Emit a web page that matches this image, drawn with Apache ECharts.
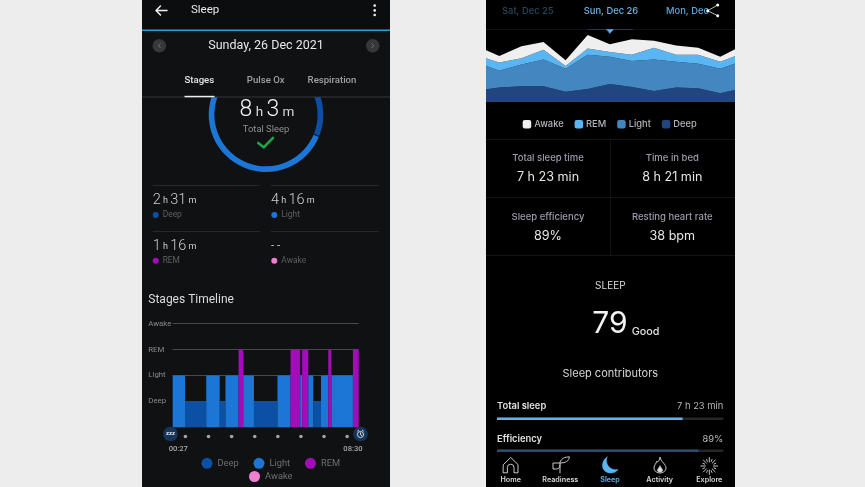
<!DOCTYPE html>
<html>
<head>
<meta charset="utf-8">
<style>
html, body { margin: 0; padding: 0; background: #ededed; }
#left, #right { position: absolute; top: 0; height: 487px; }
#left { left: 142px; width: 248px; background: #101113; }
#right { left: 486px; width: 249px; background: #000; }
#chart { position: absolute; left: 0; top: 0; width: 865px; height: 487px; }
</style>
<script src="https://cdn.jsdelivr.net/npm/echarts@6/dist/echarts.min.js"></script>
</head>
<body>
<div id="left"></div>
<div id="right"></div>
<div id="chart"></div>
<script>
// garmin timeline: stage and length in minutes of each block, starts 00:27
var stageNames = ['Deep', 'Light', 'REM', 'Awake'];
var segStages = ['Light', 'Deep', 'Light', 'Deep', 'Light', 'REM', 'Light', 'Deep', 'Light', 'REM', 'Light', 'REM', 'Light', 'Deep', 'Light', 'REM', 'Light', 'REM'];
var segMinutes = [32, 55, 35, 15, 34, 12, 28, 61, 34, 25, 5, 16, 13, 20, 19, 8, 56, 15];
var startMinute = 27;
var endMinute = 510;
var hourMarks = [60, 120, 180, 240, 300, 360, 420, 480];
// garmin ring
var ringValues = [151, 256, 76, 0];
// oura stacked area, hours per night (first and last night run off the phone)
var nights = ['0', '1', '2', '3', '4', '5', '6', '7', '8', '9', '10', '11', '12'];
var deepHours = [1.7, 2.1, 2.3, 2.3, 1.5, 1.9, 2.6, 2.2, 1.6, 2.1, 2.0, 1.3, 2.0];
var lightHours = [4.0, 2.4, 3.1, 3.8, 3.3, 4.9, 3.9, 3.7, 4.5, 3.7, 3.5, 3.5, 3.9];
var remHours = [1.0, 1.2, 0.9, 1.4, 0.4, 0.9, 0.7, 0.9, 1.7, 1.0, 1.3, 1.0, 1.1];
var awakeHours = [1.3, 0.9, 1.7, 1.1, 0.8, 1.9, 1.1, 2.2, 1.0, 1.3, 1.0, 0.7, 1.1];
// oura contributors
var contributorNames = ['Total sleep', 'Efficiency'];
var contributorValues = [82, 89];

var garminColors = { Deep: '#0c50a6', Light: '#1b76d6', REM: '#a30db9', Awake: '#f07fd3' };
var ouraColors = { Deep: '#21457f', Light: '#4487c0', REM: '#5ab6f2', Awake: '#efefef' };
var garminFont = 'Roboto';
var ouraFont = 'Inter';

// split the timeline blocks up per stage
var stageData = { Deep: [], Light: [], REM: [], Awake: [] };
var t = startMinute;
segStages.forEach(function (s, i) {
    stageData[s].push([t, t + segMinutes[i], stageNames.indexOf(s) + 1]);
    t += segMinutes[i];
});

function renderStage(params, api) {
    var a = api.coord([api.value(0), 0]);
    var b = api.coord([api.value(1), api.value(2)]);
    return {
        type: 'rect',
        shape: { x: a[0], y: b[1], width: b[0] - a[0], height: a[1] - b[1] },
        style: { fill: api.visual('color') }
    };
}

// graphic helpers
function txt(x, y, text, size, color, font, opts) {
    opts = opts || {};
    return {
        type: 'text',
        style: {
            x: x, y: y, text: text, fontSize: size, fill: color, fontFamily: font,
            fontWeight: opts.weight || 400, align: opts.align || 'left', verticalAlign: 'middle',
            rich: opts.rich
        }
    };
}
function rect(x, y, w, h, color) {
    return { type: 'rect', shape: { x: x, y: y, width: w, height: h }, style: { fill: color } };
}
function dot(x, y, r, color) {
    return { type: 'circle', shape: { cx: x, cy: y, r: r }, style: { fill: color } };
}
// graphic has no plain path type, so every icon gets registered as a shape
var iconCount = 0;
function path(d, stroke, width, fill) {
    var name = 'icon' + (iconCount++);
    echarts.graphic.registerShape(name, echarts.graphic.extendPath(d, {}));
    return { type: name, style: { stroke: stroke, lineWidth: width, fill: fill || 'none', lineCap: 'round', lineJoin: 'round' } };
}
function hm(x, y, text, big, small, color) {
    var rich = {
        b: { fontSize: big, fill: color, fontFamily: garminFont, fontWeight: 300 },
        s: { fontSize: small, fill: color, fontFamily: garminFont, fontWeight: 400 }
    };
    return txt(x, y, text, big, color, garminFont, { rich: rich });
}

var sparks = '';
for (var k = 0; k < 16; k++) {
    var ang = k * Math.PI / 8;
    var r1 = k % 2 ? 5 : 4, r2 = k % 2 ? 7 : 8.4;
    sparks += 'M' + (709.3 + r1 * Math.cos(ang)) + ' ' + (466 + r1 * Math.sin(ang)) + 'L' + (709.3 + r2 * Math.cos(ang)) + ' ' + (466 + r2 * Math.sin(ang));
}

var gr = ouraFont;
var elements = [
    // left phone header, also hides the top of the ring
    rect(142, 0, 248, 97, '#101113'),
    rect(142, 0, 248, 29.5, '#0c0d0f'),
    rect(142, 29.5, 248, 1.4, '#2a9ed6'),
    path('M167 10.5H156M160.5 6L156 10.5L160.5 15', '#f0f0f0', 1.5),
    txt(191, 10.5, 'Sleep', 11.5, '#e8e8e8', garminFont),
    dot(374.7, 5.6, 1.3, '#f0f0f0'), dot(374.7, 10.4, 1.3, '#f0f0f0'), dot(374.7, 15, 1.3, '#f0f0f0'),
    dot(159.3, 45.7, 6.8, '#36383a'), path('M160.3 43.7L158.3 45.7L160.3 47.7', '#777', 0.9),
    dot(372.7, 45.7, 6.8, '#36383a'), path('M371.7 43.7L373.7 45.7L371.7 47.7', '#777', 0.9),
    txt(266, 46, 'Sunday, 26 Dec 2021', 12.5, '#e6e6e6', garminFont, { align: 'center' }),
    txt(199.3, 80.5, 'Stages', 9.6, '#e4e4e4', garminFont, { align: 'center', weight: 500 }),
    txt(265.7, 80.5, 'Pulse Ox', 9.6, '#a0a0a0', garminFont, { align: 'center', weight: 500 }),
    txt(332, 80.5, 'Respiration', 9.6, '#a0a0a0', garminFont, { align: 'center', weight: 500 }),
    rect(142, 96.6, 248, 1, '#35363a'),
    rect(184.5, 95.8, 30, 1.5, '#eeeeee'),
    // ring centre
    txt(267, 110.5, '{b|8}{s| h }{b|3}{s| m}', 23, '#f2f2f2', garminFont, {
        align: 'center',
        rich: {
            b: { fontSize: 23, fill: '#f2f2f2', fontFamily: garminFont, fontWeight: 300 },
            s: { fontSize: 13.5, fill: '#d8d8d8', fontFamily: garminFont, padding: [5, 0, 0, 0] }
        }
    }),
    txt(266, 129.7, 'Total Sleep', 9.4, '#8f8f8f', garminFont, { align: 'center' }),
    path('M258.3 143L263.7 147.3L273 137.9', '#1ea64a', 2.6),
    // stage totals
    rect(152.7, 185, 107.5, 0.8, '#303134'), rect(271, 185, 107.7, 0.8, '#303134'),
    rect(152.7, 231, 107.5, 0.8, '#303134'), rect(271, 231, 107.7, 0.8, '#303134'),
    hm(152.7, 200.5, '{b|2}{s| h }{b|31}{s| m}', 14.5, 9, '#cfcfcf'),
    hm(271, 200.5, '{b|4}{s| h }{b|16}{s| m}', 14.5, 9, '#cfcfcf'),
    hm(152.7, 246.5, '{b|1}{s| h }{b|16}{s| m}', 14.5, 9, '#cfcfcf'),
    txt(271, 246, '- -', 11.5, '#cfcfcf', garminFont),
    dot(155.7, 215, 3, garminColors.Deep), txt(162.7, 215, 'Deep', 8.4, '#5f5f5f', garminFont),
    dot(274.3, 215, 3, garminColors.Light), txt(281.3, 215, 'Light', 8.4, '#5f5f5f', garminFont),
    dot(155.7, 260.7, 3, garminColors.REM), txt(162.7, 260.7, 'REM', 8.4, '#5f5f5f', garminFont),
    dot(274.3, 260.7, 3, garminColors.Awake), txt(281.3, 260.7, 'Awake', 8.4, '#5f5f5f', garminFont),
    txt(148.3, 299.5, 'Stages Timeline', 12, '#dcdcdc', garminFont),
    // start and end badges of the timeline
    dot(170.5, 434, 7.3, '#17345a'),
    txt(170.5, 433.5, 'zzz', 6, '#e8e8e8', garminFont, { align: 'center', weight: 700 }),
    dot(360.5, 434, 7.3, '#17345a'),
    path('M363.6 434.5A3.1 3.1 0 1 1 357.4 434.5A3.1 3.1 0 1 1 363.6 434.5M360.5 432.8V434.7L361.7 435.4M357.6 431L358.7 430.2M363.4 431L362.3 430.2', '#e8e8e8', 0.9),
    txt(178.3, 449, '00:27', 7.6, '#a8a8a8', garminFont, { align: 'center', weight: 500 }),
    txt(353, 449, '08:30', 7.6, '#a8a8a8', garminFont, { align: 'center', weight: 500 }),

    // the area grid is wider than the phone, hide what sticks out
    rect(470, 30, 16, 75, '#ededed'),
    rect(735, 30, 16, 75, '#ededed'),
    // right phone header
    txt(502, 10.7, 'Sat, Dec 25', 9.4, '#27465c', gr, { weight: 500 }),
    txt(583.7, 10.7, 'Sun, Dec 26', 9.4, '#6fb4e2', gr, { weight: 500 }),
    txt(666, 10.7, 'Mon, Dec', 9.4, '#5ea6d4', gr, { weight: 500 }),
    rect(486, 29, 249, 0.7, '#15181b'),
    rect(587, 29, 46, 0.7, '#23435a'),
    path('M606.7 29.5H613.3L610 33.3Z', '#5ab6f2', 0.5, '#5ab6f2'),
    path('M717.7 5L707.7 10.7L717.7 15.7', '#eeeeee', 0.8),
    dot(717.7, 5, 1.5, '#fff'), dot(707.7, 10.7, 1.5, '#fff'), dot(717.7, 15.7, 1.5, '#fff'),
    // right phone table rules
    rect(486, 139, 249, 0.7, '#1b1b1e'), rect(486, 197.2, 249, 0.7, '#1b1b1e'), rect(486, 255.2, 249, 0.7, '#1b1b1e'),
    rect(610.2, 139, 0.7, 116, '#1b1b1e'),
    txt(548, 157.8, 'Total sleep time', 9.5, '#9b9bab', gr, { align: 'center', weight: 500 }),
    txt(672.3, 157.8, 'Time in bed', 9.5, '#9b9bab', gr, { align: 'center', weight: 500 }),
    txt(548, 177.5, '7 h 23 min', 12.6, '#e6e6e6', gr, { align: 'center' }),
    txt(672.3, 177.5, '8 h 21 min', 12.6, '#e6e6e6', gr, { align: 'center' }),
    txt(548, 216.8, 'Sleep efficiency', 9.5, '#9b9bab', gr, { align: 'center', weight: 500 }),
    txt(672.3, 216.8, 'Resting heart rate', 9.5, '#9b9bab', gr, { align: 'center', weight: 500 }),
    txt(548, 236, '89%', 12.6, '#e6e6e6', gr, { align: 'center' }),
    txt(672.3, 236, '38 bpm', 12.6, '#e6e6e6', gr, { align: 'center' }),
    txt(610.3, 286, 'SLEEP', 10, '#dcdcdc', gr, { align: 'center' }),
    txt(610, 323.5, '79', 30, '#f4f4f4', gr, { align: 'center' }),
    txt(631.7, 331.7, 'Good', 10.8, '#e0e0e0', gr, { weight: 500 }),
    txt(610.3, 374, 'Sleep contributors', 11, '#d8d8d8', gr, { align: 'center' }),
    txt(497, 405.7, 'Total sleep', 9.4, '#e0e0e0', gr, { weight: 600 }),
    txt(723.3, 405.7, '7 h 23 min', 9.4, '#b8b8b8', gr, { align: 'right' }),
    txt(497, 439, 'Efficiency', 9.4, '#e0e0e0', gr, { weight: 600 }),
    txt(723.3, 439, '89%', 9.4, '#b8b8b8', gr, { align: 'right' }),
    // bottom nav
    path('M503.5 464.5L510.7 457.5L518 464.5V472.8H514V467.5A3.3 3.3 0 0 0 507.4 467.5V472.8H503.5Z', '#dddddd', 0.9),
    path('M560 473V462.5C561 458.5 565 457 569.3 456.8C569.3 461 565.5 463 560 463H553V469H556.5C559 469 560 467 560 465', '#dddddd', 0.9),
    path('M607 457C600 462 601 473 611 473C614 473 616.5 471.5 618 469.5C611 471 604.5 465 607 457Z', '#5ab6f2', 0.5, '#5ab6f2'),
    path('M660 457.5C661 462 666 464 666 468C666 471 663 473 660 473C657 473 654 471 654 468C654 465 656 464 657 461C658 463 659 461 660 457.5Z', '#dddddd', 0.9),
    path('M660 466C661 468 663 469 662.5 471C662 472.5 658 472.5 657.5 471C657 469 659 468 660 466Z', '#dddddd', 0.5, '#dddddd'),
    path(sparks, '#dddddd', 0.9),
    txt(510.7, 480.3, 'Home', 7.2, '#d8d8d8', gr, { align: 'center', weight: 600 }),
    txt(560.3, 480.3, 'Readiness', 7.2, '#d8d8d8', gr, { align: 'center', weight: 600 }),
    txt(610, 480.3, 'Sleep', 7.2, '#5ab6f2', gr, { align: 'center', weight: 600 }),
    txt(659.7, 480.3, 'Activity', 7.2, '#d8d8d8', gr, { align: 'center', weight: 600 }),
    txt(709.3, 480.3, 'Explore', 7.2, '#d8d8d8', gr, { align: 'center', weight: 600 })
];
// z goes on each element, the covers have to sit above the series
elements.forEach(function (el) { el.z = 10; });

function stageSeries(name) {
    return {
        name: name, type: 'custom', xAxisIndex: 0, yAxisIndex: 0,
        renderItem: renderStage, data: stageData[name],
        encode: { x: [0, 1], y: 2 },
        itemStyle: { color: garminColors[name] }, silent: true
    };
}
function areaSeries(name, values) {
    return {
        name: name, type: 'line', stack: 'oura', xAxisIndex: 2, yAxisIndex: 2,
        data: values, showSymbol: false, smooth: false, silent: true,
        lineStyle: { width: 0 }, areaStyle: { color: ouraColors[name], opacity: 1 },
        itemStyle: { color: ouraColors[name] }
    };
}
function legendItem(name, colors) {
    return { name: name, itemStyle: { color: colors[name] } };
}

var chart = echarts.init(document.getElementById('chart'));
var option = {
    animation: false,
    backgroundColor: 'transparent',
    textStyle: { fontFamily: garminFont },
    grid: [
        { left: 172.7, top: 323.7, width: 186, height: 103.6 },
        { left: 172.7, top: 436, width: 186, height: 1 },
        { left: 477.2, top: 32.3, width: 265.2, height: 70 },
        { left: 497, top: 402.7, width: 226.3, height: 64 }
    ],
    xAxis: [
        { type: 'value', gridIndex: 0, min: startMinute, max: endMinute, show: false },
        { type: 'value', gridIndex: 1, min: startMinute, max: endMinute, show: false },
        { type: 'category', gridIndex: 2, data: nights, boundaryGap: false, show: false },
        { type: 'value', gridIndex: 3, min: 0, max: 100, show: false }
    ],
    yAxis: [
        {
            type: 'value', gridIndex: 0, min: 0, max: 4, interval: 1,
            axisLine: { show: false }, axisTick: { show: false },
            splitLine: { showMinLine: false, lineStyle: { color: '#48494c', width: 1 } },
            axisLabel: {
                align: 'left', margin: 24.4, fontSize: 7.8, color: '#8a8a8a', fontFamily: garminFont,
                formatter: function (v) { return v > 0 ? stageNames[v - 1] : ''; }
            }
        },
        { type: 'value', gridIndex: 1, min: 0, max: 1, show: false },
        { type: 'value', gridIndex: 2, min: 0, max: 10, show: false },
        { type: 'category', gridIndex: 3, data: contributorNames, inverse: true, show: false }
    ],
    legend: [
        {
            data: [legendItem('Deep', garminColors), legendItem('Light', garminColors), legendItem('REM', garminColors)],
            left: 201.5, top: 457.8, itemWidth: 11, itemHeight: 11, itemGap: 14.8, icon: 'circle', padding: 0,
            selectedMode: false, textStyle: { fontSize: 9.3, color: '#6f6f6f', fontFamily: garminFont }
        },
        {
            data: [legendItem('Awake', garminColors)],
            left: 249, top: 471, itemWidth: 11, itemHeight: 11, icon: 'circle', padding: 0,
            selectedMode: false, textStyle: { fontSize: 9.3, color: '#6f6f6f', fontFamily: garminFont }
        },
        {
            data: [legendItem('Awake', ouraColors), legendItem('REM', ouraColors), legendItem('Light', ouraColors), legendItem('Deep', ouraColors)],
            left: 522.7, top: 119.8, itemWidth: 8.5, itemHeight: 8.5, itemGap: 11, icon: 'roundRect', padding: 0,
            selectedMode: false, textStyle: { fontSize: 9.3, color: '#b4b4bc', fontFamily: ouraFont, fontWeight: 500, padding: [0, 0, 0, -2] }
        }
    ],
    series: [
        stageSeries('Deep'), stageSeries('Light'), stageSeries('REM'), stageSeries('Awake'),
        {
            type: 'scatter', xAxisIndex: 1, yAxisIndex: 1, silent: true,
            data: hourMarks.map(function (m) { return [m, 0.5]; }),
            symbolSize: 3.6, itemStyle: { color: '#c8c8c8' }
        },
        areaSeries('Deep', deepHours), areaSeries('Light', lightHours), areaSeries('REM', remHours), areaSeries('Awake', awakeHours),
        {
            type: 'bar', xAxisIndex: 3, yAxisIndex: 3, barWidth: 2.6, silent: true,
            showBackground: true, backgroundStyle: { color: '#262626' },
            data: [
                { value: contributorValues[0], itemStyle: { color: '#5ab6f2' } },
                { value: contributorValues[1], itemStyle: { color: '#2c4e6a' } }
            ]
        },
        {
            type: 'pie', center: [266, 114.7], radius: [51.6, 57.3], startAngle: 90, clockwise: true,
            padAngle: 1.2, label: { show: false }, labelLine: { show: false }, silent: true,
            data: stageNames.map(function (s, i) {
                return { name: s, value: ringValues[i], itemStyle: { color: garminColors[s] } };
            })
        }
    ],
    graphic: { elements: elements }
};
chart.setOption(option);
</script>
</body>
</html>
